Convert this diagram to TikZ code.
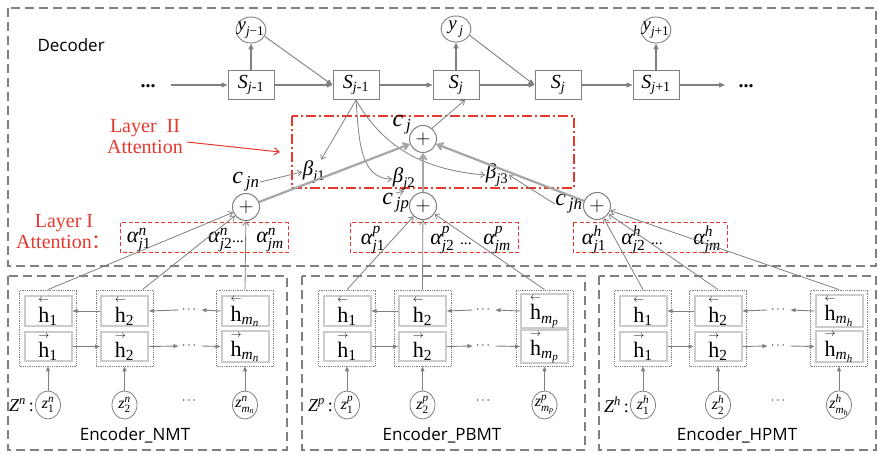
\documentclass[tikz,border=0pt]{standalone}
\usepackage{amsmath}
\usepackage{fontspec}
\setmainfont{Liberation Serif}
\setsansfont{Open Sans}
\newfontfamily\cjk{Noto Sans CJK SC}
\usetikzlibrary{arrows.meta,shapes.geometric,calc}
\definecolor{lg}{HTML}{808080}
\definecolor{lr}{HTML}{E5392F}
\definecolor{ib}{HTML}{CCCCCC}
\definecolor{tl}{HTML}{A6A6A6}
\newcommand{\fsz}[1]{\fontsize{#1}{#1}\selectfont}
\newcommand{\mi}[1]{\text{\normalfont\itshape #1}}
\newcommand{\mr}[1]{\text{\normalfont #1}}
\newcommand{\hl}[1]{\overset{\scriptscriptstyle\leftarrow}{\mr{h}}_{#1}}
\newcommand{\hr}[1]{\overset{\scriptscriptstyle\rightarrow}{\mr{h}}_{#1}}
\tikzset{
  dbox/.style={draw=lg, line width=1.4pt, dash pattern=on 9pt off 5pt},
  sbox/.style={draw=lg, line width=1pt, minimum width=46pt, minimum height=29pt, inner sep=0pt, font=\fsz{20}},
  ynode/.style={draw=lg, ellipse, line width=0.9pt, minimum width=30pt, minimum height=26pt, inner sep=0pt, font=\fsz{19}},
  plus/.style={draw=lg, circle, line width=1pt, minimum size=27pt, inner sep=0pt, font=\fsz{20}},
  arr/.style={draw=lg, line width=1.2pt, -{Triangle[length=6pt,width=5pt]}},
  tarr/.style={draw=lg, line width=0.8pt, -{Straight Barb[length=4pt,width=6pt]}},
  tline/.style={draw=tl, line width=2.2pt, -{Straight Barb[length=5pt,width=7pt]}},
  earr/.style={draw=lg, line width=0.9pt, -{Triangle[length=5pt,width=4pt]}},
  l2box/.style={draw=lr, line width=1.5pt, dash pattern=on 10pt off 3pt on 2pt off 3pt},
  l1box/.style={draw=lr, line width=1pt, dash pattern=on 4pt off 2.5pt},
  colbox/.style={draw=lg, densely dotted, line width=0.8pt, minimum width=57pt, minimum height=76pt, inner sep=0pt},
  hbox/.style={draw=ib, line width=2pt, minimum width=47pt, minimum height=29pt, inner sep=0pt, font=\fsz{22}},
  znode/.style={draw=lg, ellipse, line width=0.8pt, minimum width=25pt, minimum height=28pt, inner sep=0pt, font=\fsz{16}},
  lab/.style={inner sep=0.5pt},
  clab/.style={inner sep=0.5pt, font=\fsz{24}},
  blab/.style={inner sep=0.5pt, font=\fsz{21}},
  alab/.style={inner sep=0.5pt, font=\fsz{22}},
  redlab/.style={text=lr, font=\fsz{20}, align=center, inner sep=0pt}
}
\begin{document}
\begin{tikzpicture}[x=1pt,y=-1pt]
\fill[white] (0,0) rectangle (878,454);
\path[use as bounding box] (0,0) rectangle (878,454);

% big boxes
\draw[dbox] (8,8) rectangle (876,266);
\draw[dbox] (8,276) rectangle (287,450);
\draw[dbox] (302,276) rectangle (585,450);
\draw[dbox] (599,276) rectangle (876,450);

\node[font=\sffamily\fsz{17}, anchor=west] (declab) at (34,45) {Decoder};

% decoder row
\node[font=\fsz{20}\bfseries, anchor=base] (ldots) at (148,88) {...};
\coordinate (lstart) at (171,85);
\node[sbox] (S1) at (251,85) {$\mi{S}_{\mi{j}\mr{-1}}$};
\node[sbox] (S2) at (356,85) {$\mi{S}_{\mi{j}\mr{-1}}$};
\node[sbox] (S3) at (456,85) {$\mi{S}_{\mi{j}}$};
\node[sbox] (S4) at (558,85) {$\mi{S}_{\mi{j}}$};
\node[sbox] (S5) at (656,85) {$\mi{S}_{\mi{j}\mr{+1}}$};
\coordinate (rend) at (725,85);
\node[font=\fsz{20}\bfseries, anchor=base] (rdots) at (746,88) {...};
\node[ynode] (y1) at (251,30) {\makebox[0pt]{$\mi{y}_{\mi{j}\mr{−1}}$}};
\node[ynode] (y2) at (456,29) {\makebox[0pt]{$\mi{y}_{\,\mi{j}}$}};
\node[ynode] (y3) at (656,30) {\makebox[0pt]{$\mi{y}_{\mi{j}\mr{+1}}$}};

\draw[arr] (lstart) -- (S1);
\draw[arr] (S1) -- (S2);
\draw[arr] (S2) -- (S3);
\draw[arr] (S3) -- (S4);
\draw[arr] (S4) -- (S5);
\draw[arr] (S5) -- (rend);
\draw[arr] (S1) -- (y1);
\draw[arr] (S3) -- (y2);
\draw[arr] (S5) -- (y3);
\draw[arr, line width=0.9pt] (y1.-25) -- (S2.west);
\draw[arr, line width=0.9pt] (y2.-25) -- (S4.west);

% layer II
\draw[l2box] (292,116) rectangle (574,188);
\node[redlab] (l2lab) at (145,137) {Layer\enspace II\\[1pt]Attention};
\coordinate (l2tip) at (280,152);
\draw[lr, line width=1pt, -{Straight Barb[length=5pt,width=7pt]}] ([xshift=4pt,yshift=-5pt]l2lab.east) -- (l2tip);

\node[plus] (cj) at (423,139) {$+$};
\node[clab] (cjl) at (402,125) {$\mi{c}_{\,\mi{j}}$};
\node[blab] (b1) at (314,172) {$\mi{β}_{\mi{j}\mr{1}}$};
\node[blab] (b2) at (404,179) {$\mi{β}_{\mi{j}\mr{2}}$};
\node[blab] (b3) at (497,175) {$\mi{β}_{\mi{j}\mr{3}}$};

\node[plus] (pn) at (246,207) {$+$};
\node[plus] (pp) at (423,206) {$+$};
\node[plus] (ph) at (597,206) {$+$};
\node[clab] (cjnl) at (246,182) {$\mi{c}_{\,\mi{jn}}$};
\node[clab] (cjpl) at (396,203) {$\mi{c}_{\,\mi{jp}}$};
\node[clab] (cjhl) at (569,204) {$\mi{c}_{\,\mi{jh}}$};

\draw[tarr] (S2.south) -- (b1.60);
\draw[tarr] (S2.south) to[out=-85,in=180] (b2.west);
\draw[tarr] (S2.south) to[out=-60,in=175] (b3.west);
\draw[tarr] (cjnl.east) -- (b1.west);
\draw[tarr] (cjpl.north) -- (b2.south);
\draw[tarr] (cjhl.west) -- (b3.east);
\draw[tline] (pn) -- (cj);
\draw[tline] (pp) -- (cj);
\draw[tline] (ph) -- (cj);
\draw[tarr] (cj.50) -- ([xshift=9pt]S3.south);

% layer I
\node[redlab] (l1lab) at (64,232) {Layer I\\[1pt]Attention{\cjk ：}};
\draw[l1box] (120,223) rectangle (288,253);
\draw[l1box] (350,223) rectangle (518,253);
\draw[l1box] (573,223) rectangle (727,253);
\node[alab] (an1) at (139,240) {$\mi{α}^{\mi{n}}_{\mi{j}\mr{1}}$};
\node[alab] (an2) at (226,240) {$\mi{α}^{\mi{n}}_{\mi{j}\mr{2}}{\scriptstyle\mr{...}}$};
\node[alab] (an3) at (270,240) {$\mi{α}^{\mi{n}}_{\mi{jm}}$};
\node[alab] (ap1) at (373,240) {$\mi{α}^{\mi{p}}_{\mi{j}\mr{1}}$};
\node[alab] (ap2) at (451,240) {$\mi{α}^{\mi{p}}_{\mi{j}\mr{2}}\;{\scriptstyle\mr{...}}$};
\node[alab] (ap3) at (497,240) {$\mi{α}^{\mi{p}}_{\mi{jm}}$};
\node[alab] (ah1) at (594,240) {$\mi{α}^{\mi{h}}_{\mi{j}\mr{1}}$};
\node[alab] (ah2) at (642,240) {$\mi{α}^{\mi{h}}_{\mi{j}\mr{2}}\;{\scriptstyle\mr{...}}$};
\node[alab] (ah3) at (707,240) {$\mi{α}^{\mi{h}}_{\mi{jm}}$};

% encoders
\foreach \e/\xa/\xb/\xc/\dx/\ex/\nm/\sb in {n/48/124.5/245/190/135/NMT/18, p/347/422.5/544.5/484/442/PBMT/0, h/643/718/839/779/737/HPMT/0}{
  \node[colbox] (\e1o) at (\xa,328) {};
  \node[colbox] (\e2o) at (\xb,328) {};
  \node[colbox] (\e3o) at (\xc,328) {};
  \node[hbox] (\e1t) at (\xa,311) {$\hl{\mr{1}}$};
  \node[hbox] (\e2t) at (\xb,311) {$\hl{\mr{2}}$};
  \node[hbox] (\e3t) at (\xc,311) {$\hl{\mi{m}_{\mi{\e}}}$};
  \node[hbox] (\e1b) at (\xa,346.5) {$\hr{\mr{1}}$};
  \node[hbox] (\e2b) at (\xb,346.5) {$\hr{\mr{2}}$};
  \node[hbox] (\e3b) at (\xc,346.5) {$\hr{\mi{m}_{\mi{\e}}}$};
  \node[font=\fsz{12}] (\e dt) at (\dx,310) {$\cdots$};
  \node[font=\fsz{12}] (\e db) at (\dx,346) {$\cdots$};
  \draw[earr] (\e2t.west) -- (\e1t.east);
  \draw[earr] (\e dt.west) -- (\e2t.east);
  \draw[earr] (\e3t.west) -- (\e dt.east);
  \draw[earr] (\e1b.east) -- (\e2b.west);
  \draw[earr] (\e2b.east) -- (\e db.west);
  \draw[earr] (\e db.east) -- (\e3b.west);
  \node[znode] (\e z1) at (\xa,405) {\makebox[0pt]{$\mi{z}^{\mi{\e}}_{\mr{1}}$}};
  \node[znode] (\e z2) at (\xb,405) {\makebox[0pt]{$\mi{z}^{\mi{\e}}_{\mr{2}}$}};
  \node[znode] (\e z3) at (\xc,405) {\makebox[0pt]{$\mi{z}^{\mi{\e}}_{\mi{m}_{\mi{\e}}}$}};
  \node[font=\fsz{12}] (\e dz) at (\dx,401) {$\cdots$};
  \node[anchor=east, font=\fsz{18}, inner sep=1pt] (\e zl) at (\e z1.west) {$\mi{Z}^{\mi{\e}}$\,:};
  \draw[earr] (\e z1) -- (\e1o);
  \draw[earr] (\e z2) -- (\e2o);
  \draw[earr] (\e z3) -- (\e3o);
  \node[font=\sffamily\fsz{17}] (\e lab) at (\ex,435) {Encoder\_\nm};
  \draw[tarr] (\e1o.north) -- (p\e);
  \draw[tarr] ([xshift=\sb pt]\e2o.north) -- (p\e);
  \draw[tarr] (\e3o.north) -- (p\e);
}
\end{tikzpicture}
\end{document}
